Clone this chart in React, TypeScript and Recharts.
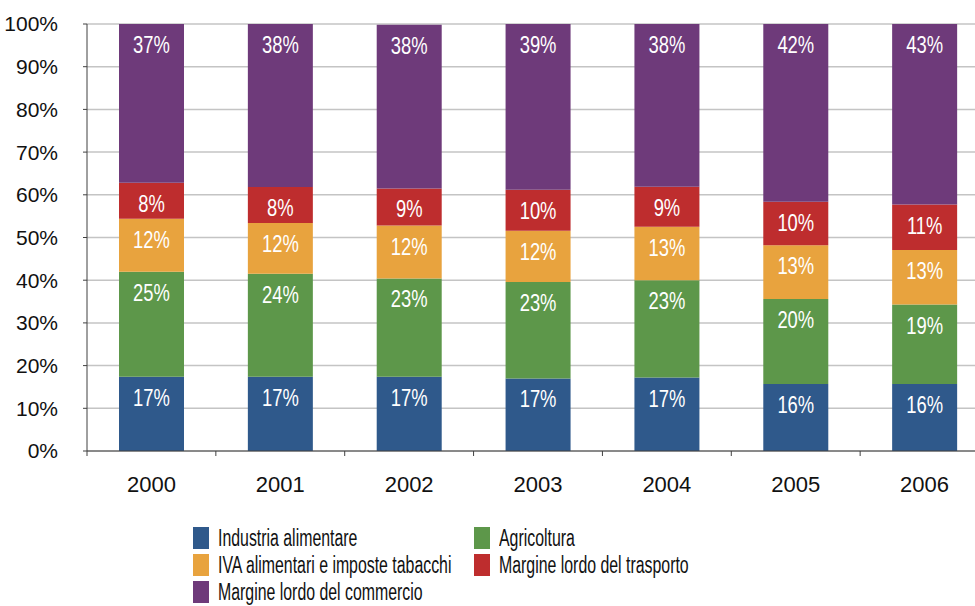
import { BarChart, Bar, XAxis, YAxis, CartesianGrid, Legend, LabelList } from 'recharts';

// quota % della spesa alimentare per componente
const years = ['2000', '2001', '2002', '2003', '2004', '2005', '2006'];
const industria = [17.4, 17.4, 17.4, 17.0, 17.2, 15.7, 15.7];
const agricoltura = [24.6, 24.1, 23.0, 22.6, 22.8, 19.9, 18.6];
const iva = [12.4, 11.9, 12.4, 12.0, 12.5, 12.6, 12.8];
const trasporto = [8.4, 8.4, 8.7, 9.6, 9.4, 10.2, 10.6];
const commercio = [37.4, 38.2, 38.3, 38.8, 38.1, 41.6, 42.5];
const yTicks = [0, 10, 20, 30, 40, 50, 60, 70, 80, 90, 100];

const series = [
  { key: 'industria', name: 'Industria alimentare', color: '#2F598B' },
  { key: 'agricoltura', name: 'Agricoltura', color: '#5D974A' },
  { key: 'iva', name: 'IVA alimentari e imposte tabacchi', color: '#E8A33E' },
  { key: 'trasporto', name: 'Margine lordo del trasporto', color: '#BE2D2E' },
  { key: 'commercio', name: 'Margine lordo del commercio', color: '#6E3A7A' },
];

const chartData = years.map((year, i) => ({
  year,
  industria: industria[i],
  agricoltura: agricoltura[i],
  iva: iva[i],
  trasporto: trasporto[i],
  commercio: commercio[i],
}));

const CHART_W = 990;
const CHART_H = 606;
const Y_W = 87;
const MARGIN = { top: 24, right: 1, bottom: 115, left: 0 };
const AXIS = '#404040';
const FONT = '"Liberation Sans", Arial, sans-serif';

const halfBand = (CHART_W - Y_W - MARGIN.left - MARGIN.right) / years.length / 2;

function YearTick(props: any) {
  const { x, y, payload } = props;
  // Excel puts the tick marks between categories
  return (
    <g>
      <line x1={x - halfBand} y1={y} x2={x - halfBand} y2={y + 5} stroke={AXIS} />
      <text x={x} y={y + 41} textAnchor="middle" fill="#111" fontSize={22} fontFamily={FONT}>
        {payload.value}
      </text>
    </g>
  );
}

// white % label near the top of each segment, squeezed to look condensed
function SegLabel(props: any) {
  const { x, y, width, value } = props;
  const cx = Number(x) + Number(width) / 2;
  return (
    <text
      transform={`translate(${cx},${Number(y) + 29}) scale(0.8,1)`}
      textAnchor="middle"
      fill="#fff"
      fontSize={23}
      fontFamily={FONT}
    >
      {`${Math.round(Number(value))}%`}
    </text>
  );
}

function LegendBox({ payload }: any) {
  const order = series.map((s) => s.name);
  const items = [...(payload || [])].sort((a: any, b: any) => order.indexOf(a.value) - order.indexOf(b.value));
  return (
    <div
      style={{
        display: 'grid',
        gridTemplateColumns: '281px 320px',
        rowGap: 5,
        fontFamily: FONT,
        fontSize: 23,
        color: '#111',
      }}
    >
      {items.map((p: any) => (
        <div key={p.value} style={{ display: 'flex', alignItems: 'center', height: 22 }}>
          <span style={{ width: 16, height: 22, background: p.color, marginRight: 9, flex: 'none' }} />
          <span
            style={{
              display: 'inline-block',
              lineHeight: '22px',
              whiteSpace: 'nowrap',
              transform: 'scaleX(0.69)',
              transformOrigin: 'left center',
            }}
          >
            {p.value}
          </span>
        </div>
      ))}
    </div>
  );
}

export default function App() {
  return (
    <div style={{ position: 'absolute', left: 0, top: 0, width: 975, height: 606, overflow: 'hidden', background: '#fff' }}>
      <BarChart width={CHART_W} height={CHART_H} data={chartData} margin={MARGIN} barSize={65}>
        <CartesianGrid horizontal vertical={false} stroke="#c4c4c4" strokeWidth={1.5} />
        <XAxis
          dataKey="year"
          height={40}
          axisLine={{ stroke: AXIS }}
          tickLine={false}
          tickSize={0}
          tickMargin={0}
          interval={0}
          tick={<YearTick />}
        />
        <YAxis
          width={Y_W}
          domain={[0, 100]}
          ticks={yTicks}
          allowDataOverflow
          axisLine={{ stroke: AXIS }}
          tickLine={{ stroke: AXIS }}
          tickSize={4}
          tickMargin={25}
          tick={{ fill: '#111', fontSize: 21, fontFamily: FONT }}
          tickFormatter={(v) => `${v}%`}
        />
        <Legend
          layout="horizontal"
          verticalAlign="middle"
          align="center"
          content={<LegendBox />}
          wrapperStyle={{ left: 193, top: 527, width: 700 }}
        />
        {series.map((s) => (
          <Bar key={s.key} dataKey={s.key} name={s.name} stackId="a" fill={s.color} isAnimationActive={false}>
            <LabelList dataKey={s.key} content={<SegLabel />} />
          </Bar>
        ))}
      </BarChart>
    </div>
  );
}
